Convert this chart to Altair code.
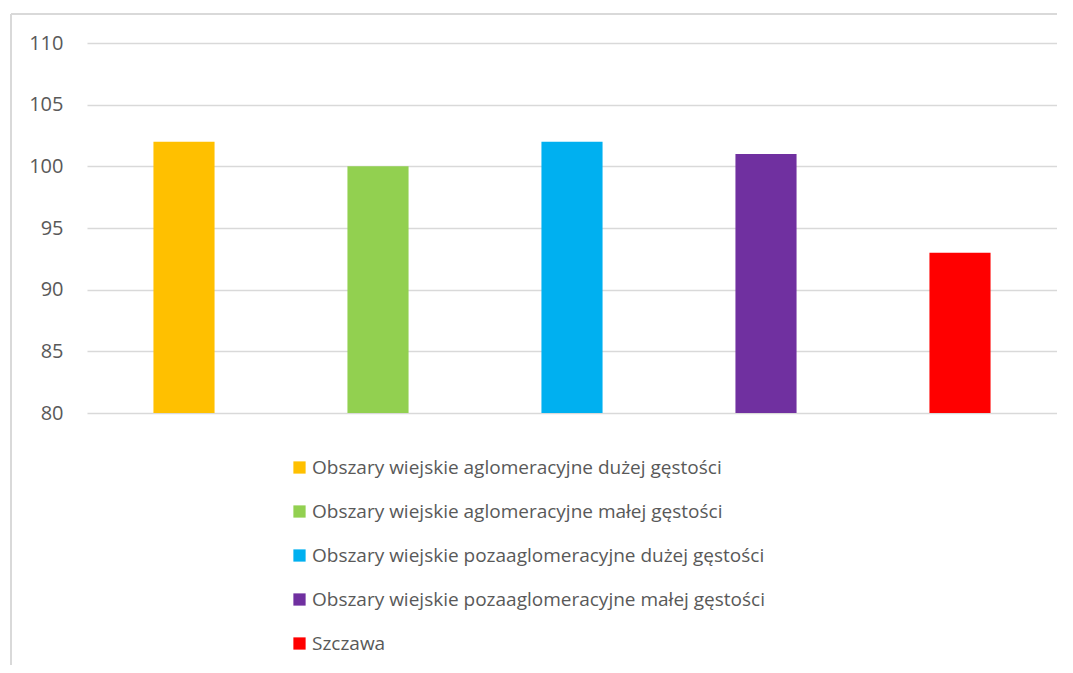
import altair as alt
import pandas as pd

categories = [
    "Obszary wiejskie aglomeracyjne dużej gęstości",
    "Obszary wiejskie aglomeracyjne małej gęstości",
    "Obszary wiejskie pozaaglomeracyjne dużej gęstości",
    "Obszary wiejskie pozaaglomeracyjne małej gęstości",
    "Szczawa",
]
values = [102, 100, 102, 101, 93]
colors = ["#FFC000", "#92D050", "#00B0F0", "#7030A0", "#FF0000"]
y_ticks = [80, 85, 90, 95, 100, 105, 110]

df = pd.DataFrame({"cat": categories, "val": values})

FONT = "Open Sans"

bars = alt.Chart(df).mark_bar(clip=True).encode(
    x=alt.X("cat:N", sort=categories, axis=None,
            scale=alt.Scale(paddingInner=0.685, paddingOuter=0.3425)),
    y=alt.Y("val:Q", scale=alt.Scale(domain=[80, 110], nice=False, zero=False),
            axis=alt.Axis(values=y_ticks, title=None, domain=False, ticks=False,
                          grid=True, gridColor="#d9d9d9", gridWidth=1.5,
                          labelFont=FONT, labelFontSize=20, labelColor="#595959",
                          labelPadding=24)),
    color=alt.Color("cat:N", sort=categories,
                    scale=alt.Scale(domain=categories, range=colors),
                    legend=alt.Legend(title=None, orient="none", legendX=203, legendY=415,
                                      direction="vertical", symbolType="square",
                                      symbolSize=150, symbolStrokeWidth=0,
                                      labelFont=FONT, labelFontSize=19,
                                      labelColor="#595959", labelLimit=800,
                                      rowPadding=24, labelOffset=3)),
)

frame_left = alt.Chart(df).mark_rule(color="#d9d9d9", strokeWidth=1.5).encode(
    x=alt.value(-76), y=alt.value(-29), y2=alt.value(700))
frame_top = alt.Chart(df).mark_rule(color="#d9d9d9", strokeWidth=1.5).encode(
    x=alt.value(-76), x2=alt.value(1100), y=alt.value(-29))

chart = alt.layer(bars, frame_left, frame_top).properties(
    width=970, height=370,
    autosize=alt.AutoSizeParams(type="none"),
    padding={"left": 79, "top": 35, "right": 0, "bottom": 252},
).configure(background="white", view=alt.ViewConfig(stroke=None))

chart.save("out.html", embed_options={"renderer": "svg", "actions": False})
